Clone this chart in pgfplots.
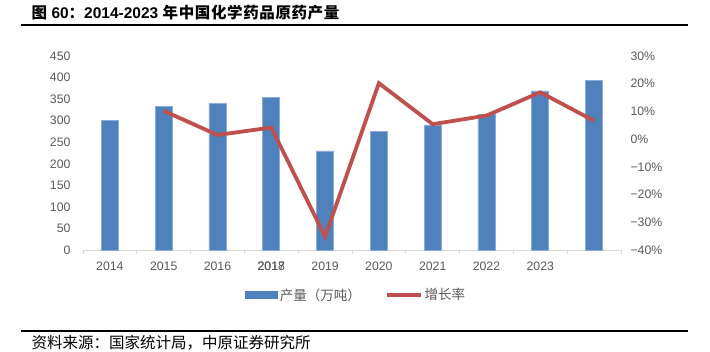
\documentclass[border=0pt]{standalone}
\usepackage{fontspec}
\setmainfont{Liberation Sans}
\newfontfamily\cjk{Noto Sans CJK SC}
\newfontfamily\cjkls{Noto Sans CJK SC}[LetterSpace=4]
\usepackage{pgfplots}
\pgfplotsset{compat=1.18}
\definecolor{barblue}{HTML}{4F81BD}
\definecolor{baredge}{HTML}{8EAADB}
\definecolor{linered}{HTML}{C0504D}
\definecolor{axgray}{HTML}{D9D9D9}
\definecolor{txtgray}{HTML}{595959}
\begin{document}
\begin{tikzpicture}[x=1pt,y=1pt]
\path (0,0) rectangle (710,351);
\node[anchor=west,inner sep=0pt] at (31.5,338.5) {\fontsize{15.5}{16}\selectfont\bfseries{\cjk 图} 60{\cjk ：}2014-2023 {\cjkls 年中国化学药品原药产量}};
\draw[line width=2pt] (21,326) -- (688,326);
\draw[line width=2pt] (21,20) -- (688,20);
\node[anchor=west,inner sep=0pt] at (31.5,8) {\fontsize{15.5}{15.5}\selectfont\cjk 资料来源：国家统计局，中原证券研究所};
\begin{axis}[
  at={(83pt,101pt)}, anchor=south west,
  width=538pt, height=194pt, scale only axis,
  xmin=-0.5, xmax=9.5, ymin=0, ymax=450,
  axis lines*=left,
  y axis line style={draw=none},
  x axis line style={draw=axgray, line width=0.8pt},
  xtick={0,1,2,3,4,5,6,7,8},
  xticklabels={2014,2015,2016,{\rlap{2017}2018},2019,2020,2021,2022,2023},
  extra x ticks={-0.5,0.5,1.5,2.5,3.5,4.5,5.5,6.5,7.5,8.5,9.5},
  extra x tick labels={},
  extra x tick style={major tick length=4pt, tick align=outside, tick style={draw=axgray, line width=0.8pt}},
  major tick length=0pt,
  ytick={0,50,...,450},
  /pgf/number format/assume math mode=true,
  tick label style={font=\fontsize{12.3}{12}\selectfont, text=txtgray},
  yticklabel style={xshift=-9pt},
  xticklabel style={yshift=-8pt},
  clip=false,
]
\addplot[ybar, bar width=17pt, fill=barblue, draw=baredge, line width=0.6pt] coordinates {
(0,301) (1,334) (2,340) (3,354) (4,230) (5,276) (6,290) (7,315) (8,369) (9,394)};
\end{axis}
\begin{axis}[
  at={(83pt,101pt)}, anchor=south west,
  width=538pt, height=194pt, scale only axis,
  xmin=-0.5, xmax=9.5, ymin=-40, ymax=30,
  axis y line*=right, axis x line=none,
  y axis line style={draw=none},
  major tick length=0pt,
  ytick={-40,-30,...,30},
  yticklabels={−40\%,−30\%,−20\%,−10\%,0\%,10\%,20\%,30\%},
  tick label style={font=\fontsize{12.3}{12}\selectfont, text=txtgray},
  yticklabel style={xshift=6pt},
  clip=false,
  legend columns=2,
  legend style={at={(0.508,-0.232)}, anchor=center, draw=none, fill=none,
    font=\fontsize{13.5}{13.5}\selectfont\cjk, text=txtgray,
    /tikz/every even column/.append style={column sep=22pt},
    inner sep=0pt},
]
\addlegendimage{legend image code/.code={\fill[barblue] (0pt,-3.5pt) rectangle (32pt,3.5pt);}}
\addlegendentry{产量（万吨）}
\addplot[linered, line width=3.8pt, mark=none,
  legend image code/.code={\draw[linered, line width=3.8pt] (0pt,0pt) -- (34pt,0pt);}] coordinates {
(1,10.2) (2,1.5) (3,4.2) (4,-35.2) (5,20.2) (6,5.4) (7,8.5) (8,16.9) (9,6.6)};
\addlegendentry{增长率}
\end{axis}
\end{tikzpicture}
\end{document}
